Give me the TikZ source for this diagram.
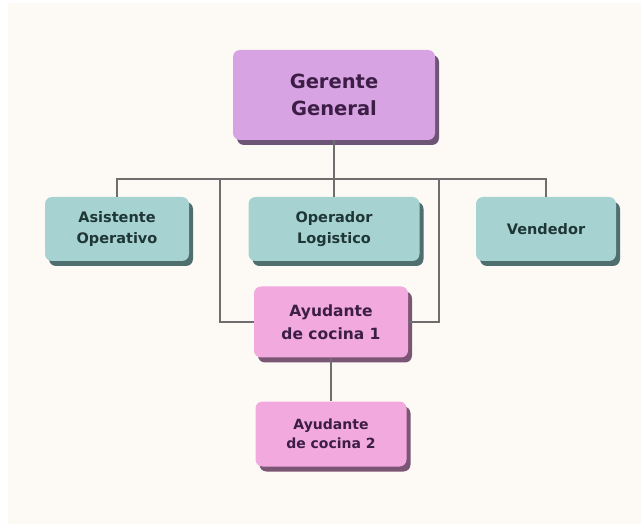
\documentclass[tikz,border=0pt]{standalone}
\usepackage{fontspec}
\setmainfont{DejaVu Sans}
\usetikzlibrary{shadows}
\definecolor{panel}{HTML}{FDFAF6}
\definecolor{lilac}{HTML}{D7A3E2}
\definecolor{lilacsh}{HTML}{6E5577}
\definecolor{tealbox}{HTML}{A7D2D2}
\definecolor{tealsh}{HTML}{4F6E6E}
\definecolor{pinkbox}{HTML}{F2AADE}
\definecolor{pinksh}{HTML}{7A5574}
\definecolor{purtext}{HTML}{3B1D45}
\definecolor{tealtext}{HTML}{1F3636}
\definecolor{linecol}{HTML}{6E6E6E}
\begin{document}
\begin{tikzpicture}[x=1pt,y=-1pt,
  orgbox/.style={rounded corners=7pt, align=center, inner sep=0pt, font=\bfseries},
  topbox/.style={orgbox, fill=lilac, text=purtext,
     drop shadow={shadow xshift=4pt, shadow yshift=-5pt, fill=lilacsh, opacity=1}},
  midbox/.style={orgbox, fill=tealbox, text=tealtext,
     drop shadow={shadow xshift=4pt, shadow yshift=-5pt, fill=tealsh, opacity=1}},
  lowbox/.style={orgbox, fill=pinkbox, text=purtext,
     drop shadow={shadow xshift=4pt, shadow yshift=-5pt, fill=pinksh, opacity=1}},
  conn/.style={draw=linecol, line width=1.3pt}]
\useasboundingbox (0,0) rectangle (641,524);
\fill[white] (0,0) rectangle (641,524);
\fill[panel] (8,3) rectangle (641,524);

\coordinate (busy) at (0,179);
\coordinate (L) at (220,179);
\coordinate (R) at (439,179);

\node[topbox, minimum width=202pt, minimum height=90pt,
  font=\bfseries\fontsize{19.5}{27}\selectfont] (G) at (334,95) {Gerente\\General};
\node[midbox, minimum width=144pt, minimum height=64pt,
  font=\bfseries\fontsize{14.5}{21}\selectfont] (A) at (117,229) {Asistente\\Operativo};
\node[midbox, minimum width=171pt, minimum height=64pt,
  font=\bfseries\fontsize{14.5}{21}\selectfont] (O) at (334,229) {Operador\\Logistico};
\node[midbox, minimum width=140pt, minimum height=64pt,
  font=\bfseries\fontsize{14.5}{21}\selectfont] (V) at (546,229) {Vendedor};
\node[lowbox, minimum width=154pt, minimum height=71pt,
  font=\bfseries\fontsize{15.5}{23}\selectfont] (Y1) at (331,322) {Ayudante\\de cocina 1};
\node[lowbox, minimum width=151pt, minimum height=65pt,
  font=\bfseries\fontsize{14}{19.5}\selectfont] (Y2) at (331,434) {Ayudante\\de cocina 2};

\draw[conn] (A.north) -- (A.north |- busy) -- (V.north |- busy) -- (V.north);
\draw[conn] (G.south) -- (O.north);
\draw[conn] (Y1.west) -| (L);
\draw[conn] (Y1.east) -| (R);
\draw[conn] (Y1.south) -- (Y2.north);
\end{tikzpicture}
\end{document}
